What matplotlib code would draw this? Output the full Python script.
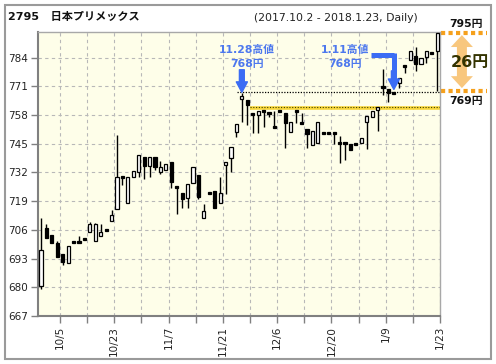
import numpy as np
import matplotlib
matplotlib.use('Agg')
import matplotlib.pyplot as plt
import matplotlib.transforms as mtransforms
from matplotlib.patches import Polygon, Rectangle

plt.rcParams['font.family'] = ['DejaVu Sans', 'Noto Sans CJK JP']

code = '2795'
name = '日本プリメックス'
period = '(2017.10.2 - 2018.1.23, Daily)'

# daily candles
opens = [680.6, 706.9, 703.7, 700.1, 695.1, 691.0, 700.6, 700.9, 702.2, 705.2,
         701.1, 703.2, 706.2, 710.2, 715.3, 730.0, 718.0, 730.1, 732.1, 738.9,
         735.1, 738.9, 732.1, 733.1, 736.6, 725.5, 722.6, 720.3, 727.1, 730.9,
         711.3, 723.1, 723.6, 718.0, 735.3, 738.4, 750.2, 765.2, 764.8, 758.8,
         758.0, 760.1, 759.0, 753.0, 760.1, 758.8, 750.2, 760.1, 754.5, 751.6,
         744.5, 745.2, 750.2, 750.2, 750.2, 745.7, 745.7, 744.8, 745.0, 745.2,
         754.8, 757.0, 760.4, 770.8, 769.7, 768.0, 772.5, 780.3, 782.8, 784.6,
         781.1, 784.2, 786.3, 786.9]
highs = [711.5, 708.7, 703.7, 701.0, 695.1, 698.7, 700.6, 703.2, 702.2, 709.7,
         709.2, 708.7, 706.2, 715.0, 749.0, 730.0, 729.8, 732.7, 739.9, 738.9,
         738.9, 738.9, 737.3, 735.9, 736.6, 725.8, 722.6, 726.7, 734.6, 730.9,
         717.5, 723.1, 723.6, 729.8, 736.6, 743.7, 753.8, 768.0, 764.8, 758.8,
         759.9, 760.1, 759.0, 759.7, 760.1, 758.8, 754.7, 760.1, 758.8, 751.6,
         750.8, 754.7, 750.2, 750.2, 750.2, 748.7, 745.7, 744.8, 745.0, 747.8,
         757.6, 760.0, 761.5, 778.7, 769.7, 768.0, 774.8, 780.3, 787.2, 788.7,
         783.9, 787.2, 786.3, 795.0]
lows = [679.2, 702.3, 700.1, 693.7, 690.1, 691.0, 700.2, 700.5, 701.8, 705.2,
        701.1, 703.2, 705.8, 710.2, 715.3, 726.3, 718.0, 730.1, 730.1, 728.9,
        730.1, 733.1, 731.2, 733.1, 725.1, 713.1, 715.8, 715.8, 727.1, 720.0,
        711.3, 722.7, 716.1, 718.0, 722.3, 732.1, 748.0, 755.0, 753.5, 750.0,
        750.0, 752.7, 757.3, 752.6, 759.7, 743.0, 750.2, 754.3, 754.1, 743.0,
        744.5, 745.2, 749.8, 749.8, 744.8, 736.2, 737.7, 742.2, 744.6, 745.2,
        742.8, 757.0, 750.9, 767.0, 764.1, 767.7, 770.3, 777.1, 782.8, 777.8,
        781.1, 781.6, 785.9, 769.0]
closes = [696.9, 702.3, 700.1, 693.7, 691.5, 698.7, 700.2, 700.5, 701.8, 708.7,
          708.7, 704.9, 705.8, 712.7, 729.8, 729.6, 729.8, 732.7, 739.9, 735.1,
          738.9, 734.6, 734.6, 735.9, 727.8, 725.1, 720.0, 726.7, 734.6, 721.0,
          714.7, 722.7, 716.1, 722.6, 736.6, 743.7, 753.8, 766.7, 762.6, 758.0,
          759.9, 759.7, 758.6, 752.6, 759.7, 754.3, 754.7, 759.7, 754.1, 749.3,
          750.8, 754.7, 749.8, 749.8, 749.8, 745.3, 745.3, 742.2, 744.6, 747.8,
          757.6, 760.0, 761.5, 770.4, 768.2, 767.7, 774.8, 779.9, 787.2, 781.1,
          783.9, 787.2, 785.9, 795.0]

date_labels = ['10/5', '10/23', '11/7', '11/21', '12/6', '12/20', '1/9', '1/23']
date_idx = [3, 13, 23, 33, 43, 53, 63, 73]
minor_idx = [8, 18, 28, 38, 48, 58, 68]
yticks = [667, 680, 693, 706, 719, 732, 745, 758, 771, 784]

peak_price = 768
peak1_idx, peak1_label = 37, '11.28高値'
peak2_idx, peak2_label = 65, '1.11高値'
support_price = 761
range_low, range_high = 769, 795

W, H = 496, 364
fig = plt.figure(figsize=(W / 100, H / 100), dpi=100)
ax = fig.add_axes([38 / W, 1 - 316 / H, 402 / W, 284 / H])
ax.set_facecolor('#fefee9')

o = np.array(opens); c = np.array(closes)
hi = np.array(highs); lo = np.array(lows)
x = np.arange(len(o))
up = c >= o
mid = (o + c) / 2
bh = np.maximum(np.abs(c - o), 0.9)
bottom = mid - bh / 2

ax.vlines(x, lo, hi, color='black', lw=1, zorder=3)
ax.bar(x[up], bh[up], bottom=bottom[up], width=0.6, facecolor='white',
       edgecolor='black', lw=0.9, zorder=4)
ax.bar(x[~up], bh[~up], bottom=bottom[~up], width=0.6, facecolor='black',
       edgecolor='black', lw=0.9, zorder=4)

ax.set_xlim(-0.55, len(o) - 0.5)
ax.set_ylim(667, 795.6)

ax.set_xticks([i + 0.5 for i in date_idx], date_labels, rotation=90)
ax.set_xticks([i + 0.5 for i in minor_idx], minor=True)
ax.set_yticks(yticks)
ax.grid(True, which='both', color='#b8b8b8', linestyle=(0, (3, 3)), lw=0.8)
ax.set_axisbelow(True)
ax.tick_params(axis='both', which='both', length=5, width=1, color='#808080',
               labelsize=7.5, labelcolor='#222222', pad=2)
for s in ['left', 'bottom']:
    ax.spines[s].set_color('#808080')
    ax.spines[s].set_linewidth(1.5)
for s in ['top', 'right']:
    ax.spines[s].set_color('#a8a8a8')
    ax.spines[s].set_linewidth(1)

# resistance / support lines
ax.plot([36.1, len(o) - 0.5], [peak_price + 0.3] * 2, color='black', lw=0.9,
        ls=(0, (1, 1.2)), zorder=5)
ax.plot([38.5, len(o) - 0.5], [support_price] * 2, color='#f8d63a', lw=2.6,
        solid_capstyle='butt', zorder=2)
ax.plot([38.5, len(o) - 0.5], [support_price + 0.5] * 2, color='#404000', lw=0.8,
        ls=(0, (1, 1.5)), zorder=2)

# blue arrows and labels
blue = '#3b6cf4'
tblue = '#4d78ee'
ax.annotate('', xy=(peak1_idx, peak_price + 0.3), xytext=(peak1_idx, 778.5),
            arrowprops=dict(arrowstyle='simple,head_length=0.75,head_width=0.8,tail_width=0.35',
                            color=blue, mutation_scale=10, shrinkA=0, shrinkB=0), zorder=6)
ax.plot([60.7, peak2_idx], [785.4, 785.4], color=blue, lw=3.6,
        solid_capstyle='butt', zorder=6)
ax.plot([peak2_idx, peak2_idx], [785.4 + 0.8, 777], color=blue, lw=3.6,
        solid_capstyle='butt', zorder=6)
ax.annotate('', xy=(peak2_idx, 769.6), xytext=(peak2_idx, 778),
            arrowprops=dict(arrowstyle='simple,head_length=0.75,head_width=0.8,tail_width=0.35',
                            color=blue, mutation_scale=10, shrinkA=0, shrinkB=0), zorder=6)
for xi, lab in [(37.9, peak1_label), (56.1, peak2_label)]:
    ax.text(xi, 787.5, lab, ha='center', va='center', color=tblue, fontsize=7.8,
            fontweight='bold', zorder=7)
    ax.text(xi, 781.1, f'{peak_price}円', ha='center', va='center', color=tblue,
            fontsize=7.8, fontweight='bold', zorder=7)

# price range box on the right
orange = '#f5a01c'
blend = mtransforms.blended_transform_factory(ax.transAxes, ax.transData)
for p in [range_high, range_low]:
    ax.plot([1.003, 1.117], [p, p], transform=blend, clip_on=False, color=orange,
            lw=3, ls=(0, (1, 0.8)), solid_capstyle='butt')
cx, sw, hw, hl = 1.0545, 0.0124, 0.0274, 5.4
t, b = range_high - 0.8, range_low + 1.2
verts = [(cx, t), (cx + hw, t - hl), (cx + sw, t - hl), (cx + sw, b + hl),
         (cx + hw, b + hl), (cx, b), (cx - hw, b + hl), (cx - sw, b + hl),
         (cx - sw, t - hl), (cx - hw, t - hl)]
ax.add_patch(Polygon(verts, closed=True, transform=blend, clip_on=False,
                     facecolor='#f8c77e', edgecolor='none'))

fig.text(469.5 / W, 1 - 63 / H, f'{range_high - range_low}円', ha='center',
         va='center', fontsize=11.5, fontweight='bold', color='#333300')
fig.text(466 / W, 1 - 23.5 / H, f'{range_high}円', ha='center', va='center',
         fontsize=7.8, fontweight='bold', color='#111111')
fig.text(466 / W, 1 - 101 / H, f'{range_low}円', ha='center', va='center',
         fontsize=7.8, fontweight='bold', color='#111111')

# title
fig.text(8 / W, 1 - 17 / H, f'{code}   {name}', ha='left', va='center',
         fontsize=8, fontweight='bold', color='#111111')
fig.text(336 / W, 1 - 18 / H, period, ha='center', va='center', fontsize=7.8,
         color='#222222')

fig.add_artist(Rectangle((5 / W, 5 / H), 486 / W, 354 / H, transform=fig.transFigure,
                         fill=False, edgecolor='#9a9a9a', lw=1.5))

fig.savefig('out.png', dpi=100)
